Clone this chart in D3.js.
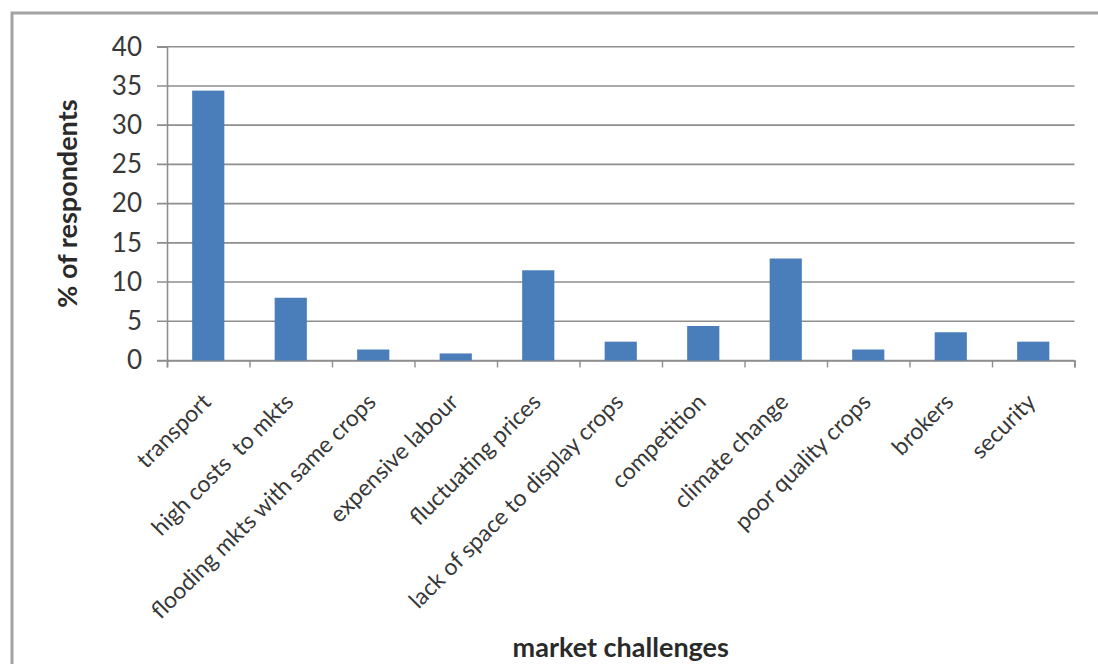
<!DOCTYPE html>
<html>
<head>
<meta charset="utf-8">
<script src="https://cdn.jsdelivr.net/npm/d3@7"></script>
<style>
  html, body { margin: 0; padding: 0; background: #ffffff; }
  svg { display: block; }
</style>
</head>
<body>
<div id="chart"></div>
<script>
// data
const categories = [
  "transport", "high costs  to mkts", "flooding mkts with same crops",
  "expensive labour", "fluctuating prices", "lack of space to display crops",
  "competition", "climate change", "poor quality crops", "brokers", "security"
];
const values = [34.4, 8.0, 1.4, 0.9, 11.5, 2.4, 4.4, 13.0, 1.4, 3.6, 2.4];
const yTicks = [0, 5, 10, 15, 20, 25, 30, 35, 40];
const yTitle = "% of respondents";
const xTitle = "market challenges";

const width = 1098, height = 664;
const margin = { top: 46.7, left: 167, right: 1098 - 1074.5, bottom: 664 - 360.5 };
const w = width - margin.left - margin.right;
const h = height - margin.top - margin.bottom;
const font = "Lato, 'Open Sans', sans-serif";
const textColor = "#383838";

const svg = d3.select("#chart")
  .append("svg")
  .attr("width", width)
  .attr("height", height);

// outer frame (clipped on the right and bottom in the reference)
svg.append("rect")
  .attr("x", 12).attr("y", 13)
  .attr("width", 1200).attr("height", 800)
  .attr("fill", "#ffffff")
  .attr("stroke", "#a3a3a3")
  .attr("stroke-width", 3);

const g = svg.append("g").attr("transform", `translate(${margin.left},${margin.top})`);

const x = d3.scaleBand()
  .domain(categories)
  .range([0, w])
  .paddingInner(0.61)
  .paddingOuter(0.305);

const xEdge = d3.scaleLinear().domain([0, categories.length]).range([0, w]);

const y = d3.scaleLinear().domain([0, 40]).range([h, 0]);

// gridlines
g.append("g")
  .selectAll("line")
  .data(yTicks)
  .enter()
  .append("line")
  .attr("x1", -10)
  .attr("x2", w)
  .attr("y1", d => y(d))
  .attr("y2", d => y(d))
  .attr("stroke", "#8e8e8e")
  .attr("stroke-width", 1.6);

// y axis
const yAxis = g.append("g")
  .call(d3.axisLeft(y).tickValues(yTicks).tickSize(10).tickPadding(15));
yAxis.select(".domain").attr("stroke", "#8e8e8e").attr("stroke-width", 1.6);
yAxis.selectAll(".tick line").attr("stroke", "none");
yAxis.selectAll("text")
  .style("font-family", font)
  .style("font-size", "26px")
  .attr("fill", textColor);

// x axis ticks on category boundaries
const xAxis = g.append("g")
  .attr("transform", `translate(0,${h})`)
  .call(d3.axisBottom(xEdge).tickValues(d3.range(categories.length + 1)).tickSize(7).tickFormat(""));
xAxis.select(".domain").attr("stroke", "#8e8e8e").attr("stroke-width", 1.6);
xAxis.selectAll(".tick line").attr("stroke", "#8e8e8e").attr("stroke-width", 1.4);

// bars
g.append("g")
  .selectAll("rect")
  .data(values)
  .enter()
  .append("rect")
  .attr("x", (d, i) => x(categories[i]))
  .attr("y", d => y(d))
  .attr("width", x.bandwidth())
  .attr("height", d => h - y(d))
  .attr("fill", "#4a7ebb");

// rotated category labels
g.append("g")
  .selectAll("text")
  .data(categories)
  .enter()
  .append("text")
  .attr("transform", d => `translate(${x(d) + x.bandwidth() / 2 + 4},${h + 43}) rotate(-45)`)
  .attr("text-anchor", "end")
  .style("font-family", font)
  .style("font-size", "23px")
  .style("white-space", "pre")
  .attr("fill", textColor)
  .text(d => d);

// axis titles
svg.append("text")
  .attr("transform", `translate(77,${margin.top + h / 2}) rotate(-90)`)
  .attr("text-anchor", "middle")
  .style("font-family", font)
  .style("font-size", "27px")
  .style("font-weight", "700")
  .attr("fill", "#2a2a2a")
  .text(yTitle);

svg.append("text")
  .attr("x", margin.left + w / 2)
  .attr("y", 657)
  .attr("text-anchor", "middle")
  .style("font-family", font)
  .style("font-size", "27px")
  .style("font-weight", "700")
  .attr("fill", "#2a2a2a")
  .text(xTitle);
</script>
</body>
</html>
